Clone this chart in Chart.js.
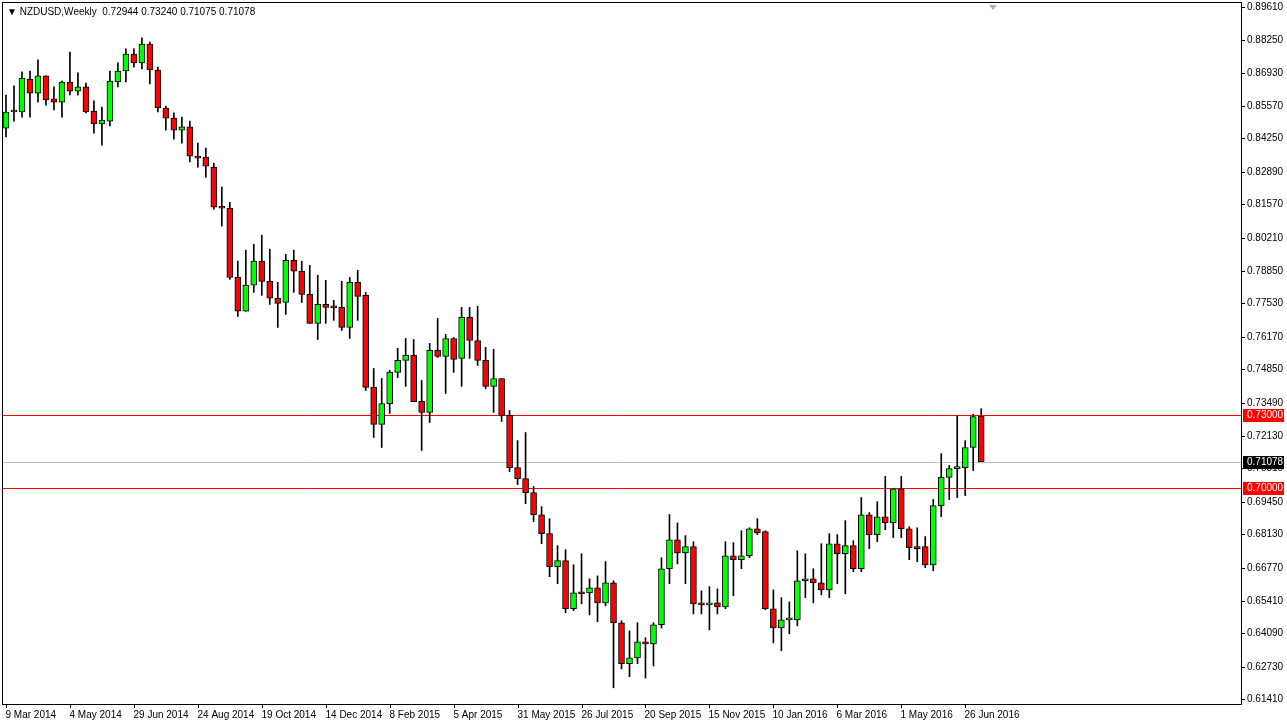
<!DOCTYPE html>
<html><head><meta charset="utf-8">
<script src="https://cdn.jsdelivr.net/npm/chart.js@4.4.1/dist/chart.umd.min.js"></script>
<style>html,body{margin:0;padding:0;background:#fff}#wrap{width:1287px;height:726px;position:relative}</style>
</head><body><div id="wrap"><canvas id="c" width="1287" height="726"></canvas></div>
<script>
const opens=[.8467,.8533,.8533,.8667,.8610,.8680,.8586,.8573,.8655,.8618,.8635,.8537,.8484,.8496,.8655,.8700,.8769,.8733,.8810,.8704,.8549,.8508,.8459,.8472,.8353,.8349,.8308,.8145,.8141,.7859,.7721,.7827,.7925,.7843,.7774,.7757,.7929,.7884,.7790,.7672,.7749,.7739,.7737,.7655,.7839,.7786,.7411,.7260,.7345,.7472,.7521,.7541,.7354,.7309,.7562,.7537,.7610,.7529,.7696,.7602,.7521,.7415,.7447,.7297,.7084,.7039,.6982,.6892,.6815,.6680,.6705,.6509,.6574,.6574,.6594,.6533,.6615,.6452,.6285,.6309,.6374,.6366,.6444,.6672,.6790,.6737,.6762,.6529,.6525,.6533,.6517,.6725,.6709,.6725,.6835,.6823,.6509,.6431,.6464,.6464,.6623,.6631,.6615,.6586,.6774,.6733,.6766,.6672,.6892,.6811,.6884,.6860,.6998,.6835,.6758,.6762,.6688,.6929,.7044,.7080,.7084,.7166,.72944];
const highs=[.8602,.8639,.8696,.8700,.8745,.8680,.8635,.8659,.8777,.8692,.8651,.8578,.8553,.8700,.8733,.8790,.8790,.8835,.8818,.8716,.8557,.8529,.8512,.8496,.8406,.8386,.8325,.8227,.8165,.7925,.7970,.7994,.8031,.7974,.7839,.7953,.7970,.7925,.7908,.7868,.7847,.7766,.7843,.7859,.7888,.7798,.7488,.7447,.7480,.7570,.7610,.7606,.7439,.7590,.7692,.7627,.7614,.7737,.7737,.7741,.7574,.7566,.7447,.7317,.7194,.7227,.7007,.6925,.6876,.6766,.6750,.6688,.6733,.6631,.6643,.6701,.6623,.6460,.6419,.6452,.6391,.6452,.6717,.6893,.6859,.6807,.6782,.6582,.6599,.6590,.6782,.6778,.6827,.6839,.6876,.6827,.6586,.6554,.6537,.6745,.6733,.6672,.6774,.6815,.6811,.6868,.6786,.6962,.6901,.6945,.7048,.6998,.7048,.6843,.6839,.6803,.6954,.7141,.7093,.7296,.7194,.7301,.73240];
const lows=[.8431,.8496,.8512,.8512,.8573,.8561,.8541,.8512,.8602,.8602,.8529,.8447,.8398,.8476,.8635,.8655,.8716,.8708,.8647,.8533,.8459,.8422,.8406,.8329,.8308,.8267,.8137,.8068,.7851,.7700,.7721,.7798,.7786,.7749,.7655,.7708,.7798,.7757,.7672,.7606,.7672,.7684,.7643,.7610,.7684,.7398,.7207,.7166,.7305,.7451,.7415,.7354,.7154,.7268,.7533,.7386,.7472,.7415,.7529,.7500,.7406,.7309,.7272,.7068,.7015,.6937,.6864,.6774,.6640,.6611,.6493,.6501,.6529,.6484,.6456,.6521,.6187,.6264,.6232,.6285,.6227,.6276,.6431,.6611,.6692,.6611,.6488,.6488,.6423,.6488,.6509,.6562,.6672,.6717,.6811,.6505,.6370,.6338,.6407,.6439,.6554,.6533,.6566,.6554,.6611,.6570,.6660,.6660,.6754,.6782,.6831,.6799,.6799,.6709,.6701,.6676,.6664,.6884,.6954,.6962,.6970,.7072,.71075];
const closes=[.8533,.8537,.8671,.8610,.8680,.8582,.8573,.8655,.8618,.8635,.8533,.8484,.8500,.8659,.8700,.8769,.8733,.8810,.8704,.8549,.8508,.8459,.8472,.8353,.8345,.8312,.8145,.8141,.7859,.7721,.7827,.7925,.7843,.7774,.7753,.7929,.7884,.7790,.7672,.7749,.7737,.7735,.7655,.7839,.7782,.7411,.7260,.7345,.7472,.7521,.7541,.7353,.7309,.7562,.7537,.7610,.7525,.7696,.7602,.7521,.7415,.7447,.7297,.7084,.7039,.6982,.6892,.6815,.6680,.6705,.6509,.6574,.6570,.6594,.6533,.6615,.6452,.6285,.6309,.6374,.6366,.6444,.6672,.6790,.6737,.6762,.6529,.6525,.6529,.6517,.6725,.6709,.6725,.6835,.6819,.6509,.6431,.6464,.6468,.6623,.6631,.6615,.6586,.6774,.6733,.6766,.6672,.6892,.6811,.6884,.6860,.6998,.6835,.6758,.6754,.6688,.6929,.7044,.7080,.7084,.7166,.7292,.71078];
const dateLabels={0:"9 Mar 2014",8:"4 May 2014",16:"29 Jun 2014",24:"24 Aug 2014",32:"19 Oct 2014",40:"14 Dec 2014",48:"8 Feb 2015",56:"5 Apr 2015",64:"31 May 2015",72:"26 Jul 2015",80:"20 Sep 2015",88:"15 Nov 2015",96:"10 Jan 2016",104:"6 Mar 2016",112:"1 May 2016",120:"26 Jun 2016"};
const yTicks=[0.89610,0.88250,0.86930,0.85570,0.84250,0.82890,0.81570,0.80210,0.78850,0.77530,0.76170,0.74850,0.73490,0.72130,0.70810,0.69450,0.68130,0.66770,0.65410,0.64090,0.62730,0.61410];
const levels=[{v:0.71078,bg:'#000000',line:'#c0c0c0'},{v:0.73000,bg:'#ff0000',line:'#ff0000'},{v:0.70000,bg:'#ff0000',line:'#ff0000'}];
const SLOTS=155;
const labels=[];for(let i=0;i<SLOTS;i++)labels.push(String(i));
const wick=[],body=[],cols=[];
for(let i=0;i<SLOTS;i++){
 if(i<opens.length){wick.push([lows[i],highs[i]]);body.push([opens[i],closes[i]]);cols.push(closes[i]>=opens[i]?'#00ff00':'#ff0000');}
 else{wick.push(null);body.push(null);cols.push('#fff');}
}
const FONT='10px "Liberation Sans"';
const deco={id:'deco',
 beforeDatasetsDraw(ch){const {ctx,chartArea:a,scales:{y}}=ch;ctx.save();
  levels.forEach(l=>{const py=Math.round(y.getPixelForValue(l.v))+0.5;ctx.strokeStyle=l.line;ctx.lineWidth=1;ctx.beginPath();ctx.moveTo(a.left,py);ctx.lineTo(a.right,py);ctx.stroke();});
  ctx.restore();},
 afterDraw(ch){const {ctx,chartArea:a,scales:{x,y}}=ch;ctx.save();
  ctx.strokeStyle='#000';ctx.lineWidth=1;ctx.strokeRect(a.left+0.5,a.top+0.5,a.right-a.left,a.bottom-a.top);
  ctx.font=FONT;ctx.fillStyle='#000';ctx.textBaseline='middle';ctx.textAlign='left';
  yTicks.forEach(t=>{const py=Math.round(y.getPixelForValue(t))+0.5;ctx.beginPath();ctx.moveTo(a.right,py);ctx.lineTo(a.right+4,py);ctx.stroke();ctx.fillText(t.toFixed(5),a.right+6,py);});
  levels.forEach(l=>{const py=Math.round(y.getPixelForValue(l.v));ctx.fillStyle=l.bg;ctx.fillRect(a.right+2,py-6,41,13);ctx.fillStyle='#fff';ctx.fillText(l.v.toFixed(5),a.right+6,py+0.5);});
  ctx.fillStyle='#000';ctx.textBaseline='top';
  Object.keys(dateLabels).forEach(k=>{const px=Math.round(x.getPixelForValue(+k))+0.5;ctx.beginPath();ctx.moveTo(px,a.bottom);ctx.lineTo(px,a.bottom+4);ctx.stroke();ctx.fillText(dateLabels[k],px-1,a.bottom+6);});
  ctx.textBaseline='middle';ctx.fillText('\u25BC NZDUSD,Weekly  0.72944 0.73240 0.71075 0.71078',7,a.top+10);
  ctx.fillStyle='#b0b0b0';ctx.beginPath();ctx.moveTo(989,a.top+3);ctx.lineTo(997,a.top+3);ctx.lineTo(993,a.top+8);ctx.fill();
  ctx.restore();}
};
new Chart(document.getElementById('c'),{type:'bar',
 data:{labels,datasets:[
  {data:wick,backgroundColor:'#000',borderWidth:0,barThickness:1,grouped:false,order:2},
  {data:body,backgroundColor:cols,borderColor:'#000',borderWidth:1,borderSkipped:false,barThickness:6,grouped:false,minBarLength:2,order:1}
 ]},
 options:{responsive:false,animation:false,devicePixelRatio:1,
  layout:{padding:{left:2,top:2,right:46,bottom:22}},
  plugins:{legend:{display:false},tooltip:{enabled:false}},
  scales:{x:{display:false,offset:true},y:{display:false,min:0.6121,max:0.8981}}},
 plugins:[deco]});
</script></body></html>
